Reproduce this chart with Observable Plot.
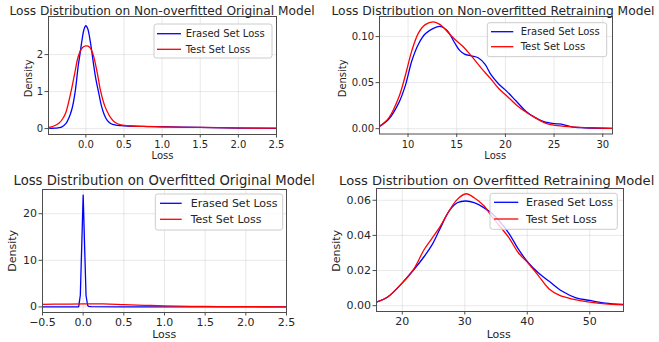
<!DOCTYPE html>
<html>
<head>
<meta charset="utf-8">
<script src="https://cdn.jsdelivr.net/npm/d3@7"></script>
<script src="https://cdn.jsdelivr.net/npm/@observablehq/plot@0.6"></script>
<style>
  body { margin: 0; background: #fff; }
  #root { position: relative; width: 659px; height: 342px; background: #fff; overflow: hidden; font-family: "DejaVu Sans", sans-serif; }
  #root > svg, #root > figure { position: absolute; margin: 0; }
</style>
</head>
<body>
<div id="root"></div>
<script>
// ---------- Data ----------
const seriesNames = ["Erased Set Loss", "Test Set Loss"];
const titles = [
  "Loss Distribution on Non-overfitted Original Model",
  "Loss Distribution on Non-overfitted Retraining Model",
  "Loss Distribution on Overfitted Original Model",
  "Loss Distribution on Overfitted Retraining Model"
];
const xLabel = "Loss";
const yLabel = "Density";

// Panel 1: Non-overfitted Original Model
const p1ErasedX = [-0.49,-0.40,-0.32,-0.26,-0.22,-0.18,-0.14,-0.10,-0.078,-0.05,-0.025,0.0,0.025,0.05,0.08,0.10,0.13,0.165,0.20,0.24,0.28,0.33,0.39,0.46,0.55,0.75,1.0,1.25,1.5,2.0,2.5];
const p1ErasedY = [0.01,0.012,0.04,0.14,0.30,0.55,1.0,1.7,2.0,2.4,2.68,2.78,2.7,2.45,2.05,1.75,1.35,1.0,0.65,0.38,0.22,0.13,0.095,0.08,0.07,0.06,0.05,0.04,0.03,0.015,0.008];
const p1TestX = [-0.49,-0.42,-0.35,-0.30,-0.26,-0.20,-0.15,-0.10,-0.05,0.0,0.05,0.095,0.15,0.195,0.25,0.30,0.33,0.38,0.46,0.6,0.8,1.0,1.5,2.0,2.5];
const p1TestY = [0.03,0.07,0.15,0.28,0.45,0.95,1.45,1.95,2.18,2.235,2.2,2.0,1.5,1.0,0.6,0.38,0.28,0.17,0.1,0.07,0.055,0.045,0.03,0.018,0.01];

// Panel 2: Non-overfitted Retraining Model
const p2ErasedX = [7.07,8.03,9.05,9.73,10.4,11.08,11.77,12.6,13.3,13.98,14.8,15.3,15.8,16.5,17.2,17.9,18.5,19.36,20.1,21.1,22.1,23.1,24.1,25.1,25.95,26.8,28.1,31.0];
const p2ErasedY = [0.0025,0.0105,0.028,0.047,0.074,0.092,0.103,0.109,0.111,0.107,0.093,0.085,0.081,0.079,0.077,0.070,0.059,0.048,0.041,0.030,0.019,0.0117,0.007,0.0055,0.0045,0.002,0.001,0.0002];
const p2TestX = [7.07,8.03,9.05,9.73,10.4,11.08,11.77,12.6,13.3,13.98,14.8,15.67,16.5,17.5,18.5,19.36,20.1,21.1,22.1,23.1,24.1,25.1,26.8,28.8,31.0];
const p2TestY = [0.0025,0.0117,0.034,0.058,0.085,0.104,0.113,0.116,0.113,0.106,0.097,0.089,0.079,0.066,0.054,0.043,0.036,0.026,0.018,0.0117,0.006,0.0035,0.002,0.001,0.0003];

// Panel 3: Overfitted Original Model
const p3ErasedX = [-0.5,-0.06,-0.055,-0.035,0.0,0.035,0.055,0.07,0.1,0.5,1.0,2.5];
const p3ErasedY = [0.0,0.0,0.05,2.5,24.0,2.5,0.3,0.1,0.05,0.02,0.01,0.0];
const p3TestX = [-0.5,-0.25,0.0,0.25,0.5,0.75,1.0,1.5,2.0,2.5];
const p3TestY = [0.55,0.6,0.65,0.65,0.5,0.35,0.22,0.1,0.05,0.02];

// Panel 4: Overfitted Retraining Model
const p4ErasedX = [15.87,17.6,20.0,21.86,23.5,24.8,26.1,27.5,28.8,30.2,31.5,33.1,34.5,37.0,38.6,40.2,41.8,43.5,45.6,47.8,50.0,52.5,55.4];
const p4ErasedY = [0.002,0.0048,0.013,0.0206,0.028,0.0349,0.0443,0.054,0.0586,0.0596,0.0586,0.0557,0.052,0.0415,0.032,0.0243,0.0186,0.0139,0.0082,0.0045,0.003,0.0015,0.0007];
const p4TestX = [15.87,17.6,20.0,21.86,23.5,24.8,26.1,27.5,28.8,30.2,31.5,33.1,34.5,37.0,38.6,40.2,41.8,43.5,45.1,47.3,50.0,52.5,55.4];
const p4TestY = [0.002,0.0048,0.013,0.021,0.032,0.0386,0.0453,0.054,0.0605,0.0637,0.0614,0.0567,0.050,0.039,0.030,0.024,0.017,0.0095,0.006,0.0037,0.002,0.001,0.0005];

// Tick values
const p1XTicks = [0, 0.5, 1, 1.5, 2, 2.5];
const p1YTicks = [0, 1, 2];
const p2XTicks = [10, 15, 20, 25, 30];
const p2YTicks = [0, 0.05, 0.10];
const p3XTicks = [-0.5, 0, 0.5, 1, 1.5, 2, 2.5];
const p3YTicks = [0, 10, 20];
const p4XTicks = [20, 30, 40, 50];
const p4YTicks = [0, 0.02, 0.04, 0.06];

// ---------- Drawing ----------
const colors = ["blue", "red"];
const toRows = (xs, ys) => xs.map((x, i) => ({x, y: ys[i]}));

const panels = [
  {left: 0, top: 0, width: 330, height: 170, m: [16, 54, 36, 48], xd: [-0.49, 2.5], yd: [-0.16, 3.03],
   xt: p1XTicks, yt: p1YTicks, xf: d3.format(".1f"), yf: d3.format("d"), fs: 10, pad: 3,
   s: [toRows(p1ErasedX, p1ErasedY), toRows(p1TestX, p1TestY)], curve: "catmull-rom"},
  {left: 330, top: 0, width: 329, height: 170, m: [16, 47, 36.5, 49], xd: [7.07, 31.0], yd: [-0.0058, 0.1218],
   xt: p2XTicks, yt: p2YTicks, xf: d3.format("d"), yf: d3.format(".2f"), fs: 10, pad: 3,
   s: [toRows(p2ErasedX, p2ErasedY), toRows(p2TestX, p2TestY)], curve: "catmull-rom"},
  {left: 0, top: 170, width: 330, height: 172, m: [19, 44, 30, 42], xd: [-0.5, 2.5], yd: [-1.2, 25.2],
   xt: p3XTicks, yt: p3YTicks, xf: d3.format(".1f"), yf: d3.format("d"), fs: 11, pad: 2,
   s: [toRows(p3ErasedX, p3ErasedY), toRows(p3TestX, p3TestY)], curve: "linear", curves: ["linear", "catmull-rom"]},
  {left: 330, top: 170, width: 329, height: 172, m: [18, 36, 31, 46], xd: [15.87, 55.4], yd: [-0.0033, 0.0667],
   xt: p4XTicks, yt: p4YTicks, xf: d3.format("d"), yf: d3.format(".2f"), fs: 11, pad: 2,
   s: [toRows(p4ErasedX, p4ErasedY), toRows(p4TestX, p4TestY)], curve: "catmull-rom"}
];

const root = document.getElementById("root");

for (const p of panels) {
  const curves = p.curves || [p.curve, p.curve];
  const chart = Plot.plot({
    width: p.width, height: p.height,
    marginTop: p.m[0], marginRight: p.m[1], marginBottom: p.m[2], marginLeft: p.m[3],
    style: {fontSize: p.fs + "px", fontFamily: "DejaVu Sans", color: "#262626", background: "transparent", overflow: "visible"},
    x: {domain: p.xd},
    y: {domain: p.yd},
    marks: [
      Plot.gridX(p.xt, {stroke: "#b0b0b0", strokeOpacity: 0.35, strokeWidth: 0.8}),
      Plot.gridY(p.yt, {stroke: "#b0b0b0", strokeOpacity: 0.35, strokeWidth: 0.8}),
      Plot.line(p.s[0], {x: "x", y: "y", stroke: colors[0], strokeWidth: 1.3, curve: curves[0], clip: true}),
      Plot.line(p.s[1], {x: "x", y: "y", stroke: colors[1], strokeWidth: 1.3, curve: curves[1], clip: true}),
      Plot.frame({stroke: "#4d4d4d", strokeWidth: 1}),
      Plot.axisX(p.xt, {tickFormat: p.xf, tickSize: 3.5, tickPadding: p.pad, label: null, stroke: "#4d4d4d", fill: "#262626"}),
      Plot.axisY(p.yt, {tickFormat: p.yf, tickSize: 3.5, tickPadding: 2, label: null, stroke: "#4d4d4d", fill: "#262626"})
    ]
  });
  chart.style.left = p.left + "px";
  chart.style.top = p.top + "px";
  root.appendChild(chart);
}

// ---------- Text overlay: titles, axis labels, legends ----------
const NS = "http://www.w3.org/2000/svg";
const overlay = document.createElementNS(NS, "svg");
overlay.setAttribute("width", 659);
overlay.setAttribute("height", 342);
overlay.style.left = "0px";
overlay.style.top = "0px";
overlay.style.pointerEvents = "none";
overlay.setAttribute("font-family", "DejaVu Sans");
root.appendChild(overlay);

function el(tag, attrs, text) {
  const e = document.createElementNS(NS, tag);
  for (const k in attrs) e.setAttribute(k, attrs[k]);
  if (text != null) e.textContent = text;
  overlay.appendChild(e);
  return e;
}

const texts = [
  // titles
  {t: titles[0], x: 162, y: 15, fs: 12.2},
  {t: titles[1], x: 493, y: 15, fs: 12.3},
  {t: titles[2], x: 164.2, y: 185, fs: 13.2},
  {t: titles[3], x: 496.7, y: 185, fs: 13.1},
  // x labels
  {t: xLabel, x: 162.5, y: 159, fs: 10},
  {t: xLabel, x: 495.3, y: 159, fs: 10},
  {t: xLabel, x: 164.2, y: 338.3, fs: 11},
  {t: xLabel, x: 498.7, y: 338.3, fs: 11},
  // y labels (rotated)
  {t: yLabel, x: 32.3, y: 78.3, fs: 10, r: true},
  {t: yLabel, x: 345.6, y: 78.3, fs: 10, r: true},
  {t: yLabel, x: 16.3, y: 250.8, fs: 11, r: true},
  {t: yLabel, x: 339.7, y: 250.8, fs: 11, r: true}
];
for (const d of texts) {
  el("text", {x: d.x, y: d.y, "text-anchor": "middle", "font-size": d.fs, fill: "#262626",
    transform: d.r ? `rotate(-90 ${d.x} ${d.y})` : ""}, d.t);
}

const legends = [
  {x0: 154, x1: 272, y0: 24, y1: 58, l0: 157, l1: 181, tx: 185.7, rows: [33.7, 49.3], fs: 10},
  {x0: 487.3, x1: 606.7, y0: 22.7, y1: 56.7, l0: 491, l1: 513.3, tx: 520.7, rows: [31.7, 46.7], fs: 10},
  {x0: 155.3, x1: 282.7, y0: 194, y1: 230, l0: 160, l1: 181.7, tx: 190.7, rows: [203.3, 219.3], fs: 11},
  {x0: 490, x1: 617.3, y0: 193.3, y1: 229.3, l0: 494, l1: 518.3, tx: 526, rows: [202.3, 219], fs: 11}
];
for (const L of legends) {
  el("rect", {x: L.x0, y: L.y0, width: L.x1 - L.x0, height: L.y1 - L.y0, rx: 2.5,
    fill: "#fff", "fill-opacity": 0.8, stroke: "#cccccc", "stroke-width": 1});
  L.rows.forEach((cy, i) => {
    el("line", {x1: L.l0, x2: L.l1, y1: cy, y2: cy, stroke: colors[i], "stroke-width": 1.3});
    el("text", {x: L.tx, y: cy + L.fs * 0.36, "font-size": L.fs, fill: "#262626"}, seriesNames[i]);
  });
}
</script>
</body>
</html>
